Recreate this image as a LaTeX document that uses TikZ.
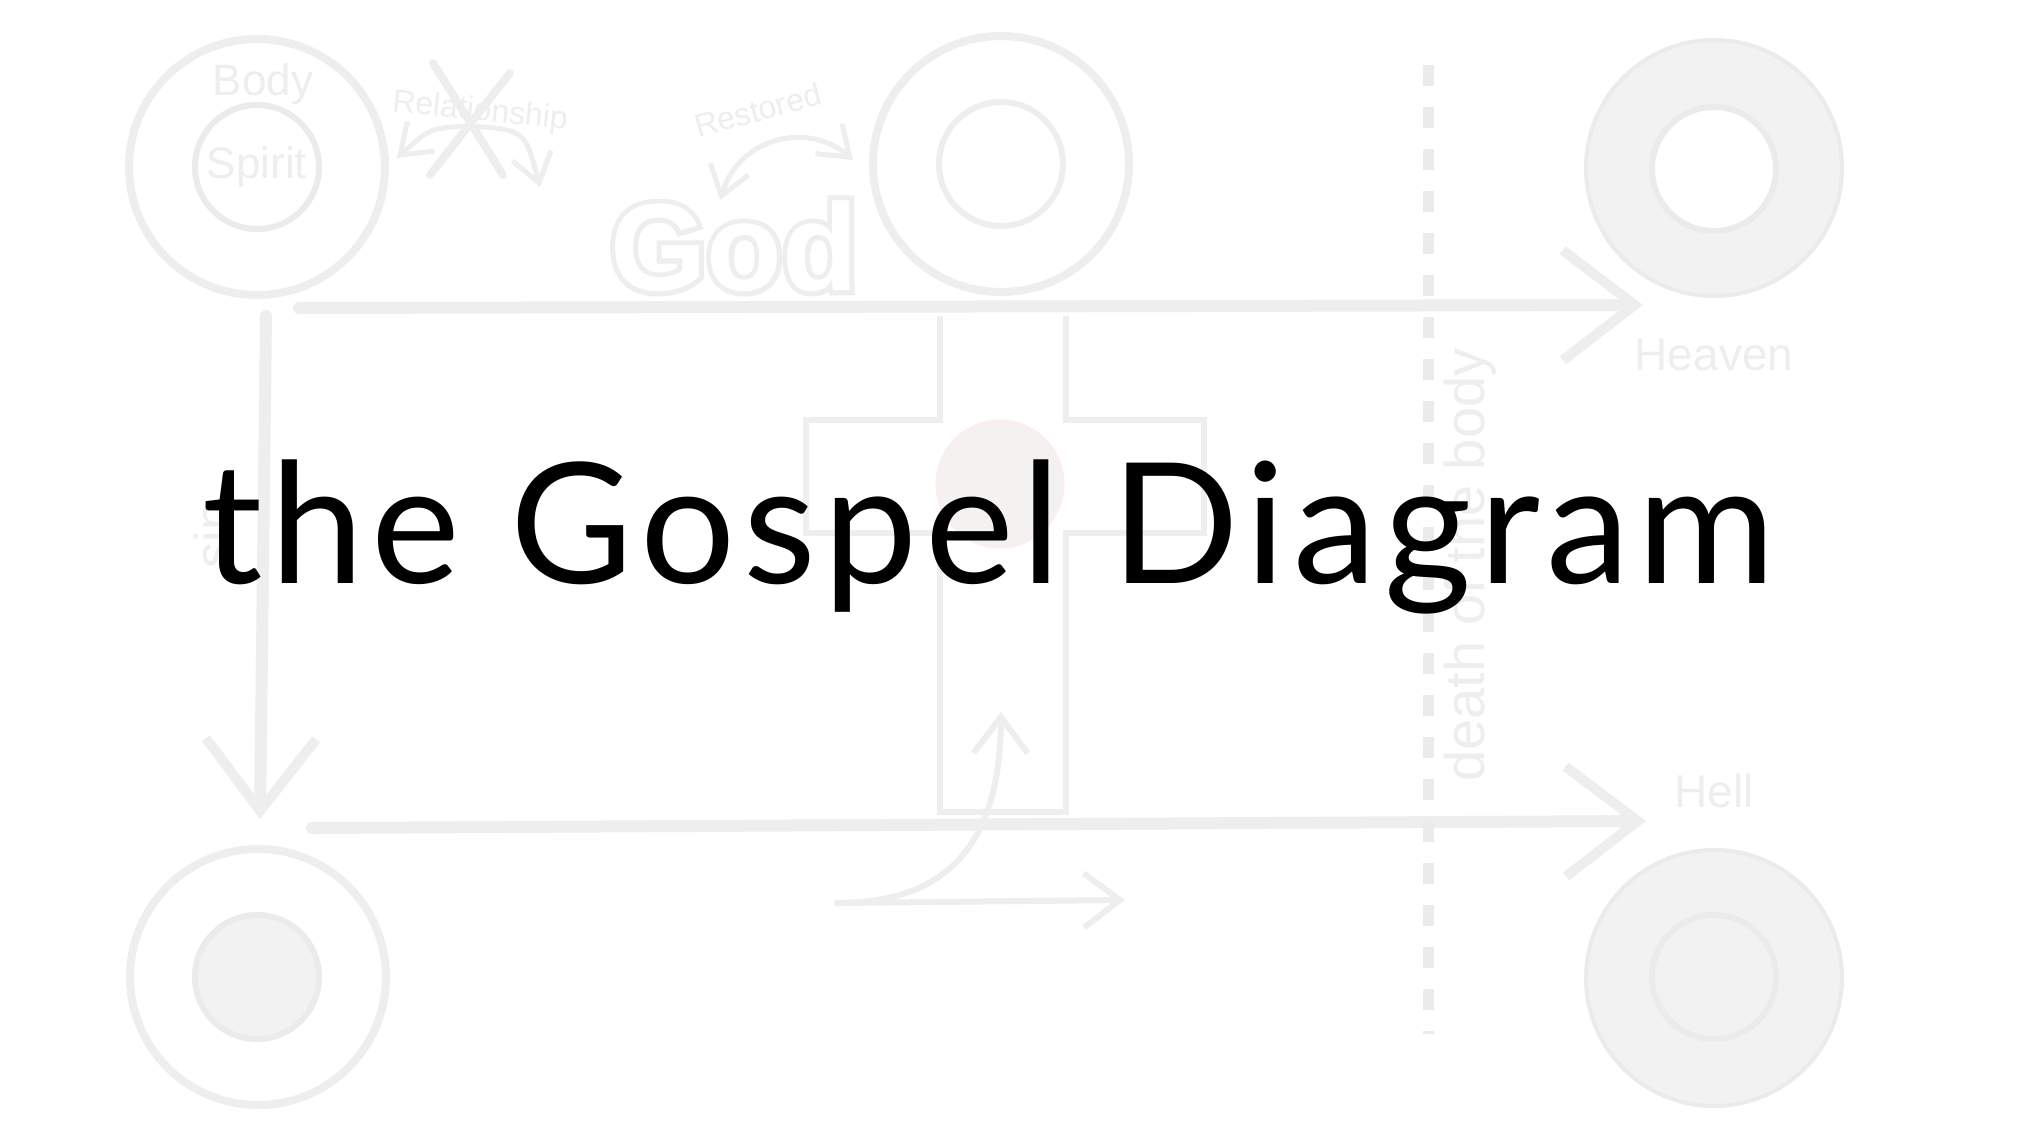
\documentclass[tikz,border=0pt]{standalone}
\usepackage{xcolor}
\usepackage{fontspec}
\setmainfont{Lato}[LetterSpace=4.5]
\newfontfamily\labelfont{Liberation Sans}
\newfontfamily\godfont{Liberation Sans}
\newfontfamily\godline{Liberation Sans}[BoldFeatures={FakeBold=8}]
\usepackage{tikz}
\usetikzlibrary{positioning}
\usetikzlibrary{arrows.meta}

\definecolor{sketchgrey}{HTML}{EEEEEE}
\definecolor{fillgrey}{HTML}{F2F2F2}
\definecolor{ringgrey}{HTML}{EBEBEB}
\definecolor{pinkedge}{HTML}{FBEEEE}
\definecolor{pinkfill}{HTML}{F4F1F1}

\tikzset{
  sbarb/.tip={Straight Barb[length=14pt,width=20pt,line width=2.5pt]},
  outer/.style={circle,draw=sketchgrey,line width=4pt,minimum size=128pt,inner sep=0pt},
  outerfull/.style={outer,draw=ringgrey,line width=2pt,fill=fillgrey},
  inner/.style={circle,draw=ringgrey,line width=3pt,minimum size=62pt,inner sep=0pt},
  lbl/.style={text=sketchgrey,inner sep=0pt,font=\labelfont\fontsize{#1}{#1}\selectfont},
  lbl/.default=22,
  brush/.style={draw=sketchgrey,line width=6pt,line cap=round,
    -{Straight Barb[length=36pt,width=55pt,line width=5pt]}},
  thinarrow/.style={draw=sketchgrey,line width=3pt,line cap=round,
    -{Straight Barb[length=18pt,width=27pt,line width=3pt]}},
  smallarrow/.style={draw=sketchgrey,line width=2.5pt,line cap=round,-sbarb},
  xmark/.style={draw=sketchgrey,line width=4pt,line cap=round},
  crossline/.style={draw=sketchgrey,line width=3pt,line join=miter},
  deathline/.style={draw=ringgrey,line width=5.5pt,dash pattern=on 10.5pt off 10.5pt},
}

\begin{document}
\begin{tikzpicture}[x=0.5pt,y=-0.5pt]
	\fill[white] (0,0) rectangle (2038,1140);
	\useasboundingbox (0,0) rectangle (2038,1140);

	% the four people
	\node[outer] (man) at (257,167) {};
	\node[inner] (spirit) at (257,167) {\labelfont\fontsize{22}{22}\selectfont\color{sketchgrey}Spirit};
	\node[lbl] (bodytext) at (263,84) {Body};

	\node[outer] (saved) at (1001,164) {};
	\node[inner,draw=sketchgrey] (savedin) at (1001,164) {};

	\node[outerfull] (heaven) at (1714,168) {};
	\node[inner,fill=white] (heavenin) at (1714,169) {};

	\node[outer] (fallen) at (258,977) {};
	\node[inner,fill=fillgrey] (fallenin) at (257,977) {};

	\node[outerfull] (hell) at (1714,978) {};
	\node[inner,fill=fillgrey] (hellin) at (1714,977) {};

	\node[lbl=23, below=20pt of heaven] (heaventext) {Heaven};
	\node[lbl=23, above=20pt of hell] (helltext) {Hell};

	% broken and restored relationship
	\node[lbl=16,rotate=-6] (reltext) at (480,112) {Relationship};
	\draw[xmark] (433,63) -- (503,175);
	\draw[xmark] (510,73) -- (430,175);
	\coordinate (relmid) at (470,126);
	\coordinate (relleft) at (397,158);
	\coordinate (relright) at (540,187);
	\draw[smallarrow] (relmid) .. controls (430,128) .. (relleft);
	\draw[smallarrow] (relmid) .. controls (525,130) .. (relright);

	\node[lbl=16,rotate=15] (restext) at (758,110) {Restored};
	\coordinate (godtip) at (720,200);
	\coordinate (restip) at (853,160);
	\draw[smallarrow,sbarb-sbarb] (godtip) .. controls (740,135) and (810,122) .. (restip);

	\node[inner sep=0pt] (god) at (734,246) {\fontsize{62}{62}\selectfont
		{\godline\bfseries\color{sketchgrey}\rlap{God}}{\godfont\bfseries\color{white}God}};

	% the cross
	\node[circle,draw=pinkedge,line width=1.5pt,fill=pinkfill,minimum size=63pt] (blood) at (1000,484) {};
	\draw[crossline] (940,316) -- (940,420) -- (806,420) -- (806,533) -- (940,533) -- (940,812)
		-- (1066,812) -- (1066,533) -- (1204,533) -- (1204,420) -- (1066,420) -- (1066,316);

	% paths
	\coordinate (lifeL) at (299,308);
	\coordinate (lifeR) at (1643,305);
	\coordinate (sinT) at (266,316);
	\coordinate (sinB) at (260,819);
	\coordinate (deathL) at (312,828);
	\coordinate (deathR) at (1646,821);
	\draw[brush] (lifeL) -- (lifeR);
	\draw[brush] (sinT) -- (sinB);
	\draw[brush] (deathL) -- (deathR);

	\coordinate (raiseL) at (837,903);
	\coordinate (raiseT) at (1001,712);
	\coordinate (raiseR) at (1125,900);
	\draw[thinarrow] (raiseL) .. controls (960,903) and (1000,830) .. (raiseT);
	\draw[thinarrow] (raiseL) -- (raiseR);

	% death of the body
	\coordinate (dtop) at (1428,65);
	\coordinate (dbot) at (1428,1034);
	\draw[deathline] (dtop) -- (dbot);
	\node[lbl=28,rotate=90] (deathtext) at (1470,565) {death of the body};
	\node[lbl=26,rotate=90] (sintext) at (213,535) {sin};

	% title
	\node[anchor=base,inner sep=0pt,font=\fontsize{84}{90}\selectfont] (title) at (989,583) {the Gospel Diagram};
\end{tikzpicture}
\end{document}
